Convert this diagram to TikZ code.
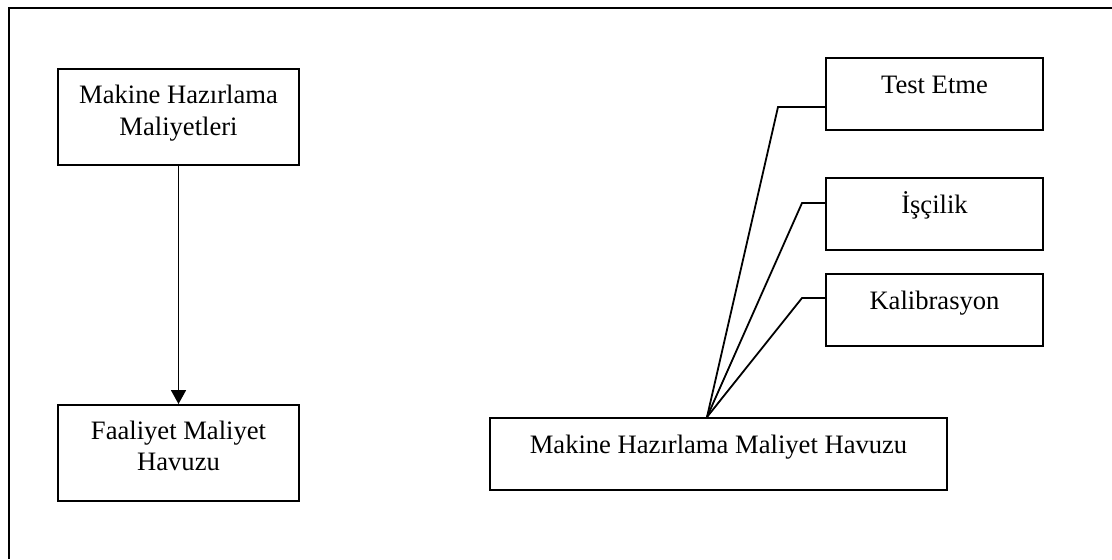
\documentclass[tikz,border=0pt]{standalone}
\usepackage{fontspec}
\setmainfont{Liberation Serif}
\usetikzlibrary{arrows.meta}
\begin{document}
\begin{tikzpicture}[x=0.5pt,y=-0.5pt,
  box/.style={draw, line width=1pt, inner sep=0pt, anchor=north west},
  smallbox/.style={box, minimum width=108.5pt, minimum height=36pt},
  txt/.style={anchor=base, inner sep=0pt, align=center,
              font=\fontsize{13.3pt}{15.7pt}\selectfont},
  link/.style={line width=0.9pt},
  flow/.style={line width=0.9pt, -{Triangle[length=7pt,width=7.5pt]}}]
\useasboundingbox (0,0) rectangle (1112,559);

% surrounding frame, open at the right and bottom
\draw[line width=1pt] (9,559) -- (9,8) -- (1112,8);

% left column (two-line labels sit on the baseline of their last line)
\node[box, minimum width=120.5pt, minimum height=48pt] (mhm) at (57,68) {};
\node[txt] (mhmt) at ([yshift=-33.5pt]mhm.north) {Makine Hazırlama\\Maliyetleri};
\node[box, minimum width=120.5pt, minimum height=48pt] (fmh) at (57,404) {};
\node[txt] (fmht) at ([yshift=-33.2pt]fmh.north) {Faaliyet Maliyet\\Havuzu};
\draw[flow] (mhm) -- (fmh);

% right group
\node[smallbox] (test) at (825,57) {};
\node[txt] (testt) at ([yshift=-18pt]test.north) {Test Etme};
\node[smallbox] (isc) at (825,177) {};
\node[txt] (isct) at ([yshift=-18pt]isc.north) {İşçilik};
\node[smallbox] (kal) at (825,273) {};
\node[txt] (kalt) at ([yshift=-18pt]kal.north) {Kalibrasyon};
\node[box, minimum width=228.5pt, minimum height=36pt] (pool) at (489,417) {};
\node[txt] (poolt) at ([yshift=-18pt]pool.north) {Makine Hazırlama Maliyet Havuzu};

\coordinate (hub) at ([xshift=-5.75pt]pool.north);
\draw[link] ([yshift=-6.5pt]test.west) -- ++(-47,0) -- (hub);
\draw[link] ([yshift=5.5pt]isc.west) -- ++(-23,0) -- (hub);
\draw[link] ([yshift=6pt]kal.west) -- ++(-23,0) -- (hub);
\end{tikzpicture}
\end{document}
